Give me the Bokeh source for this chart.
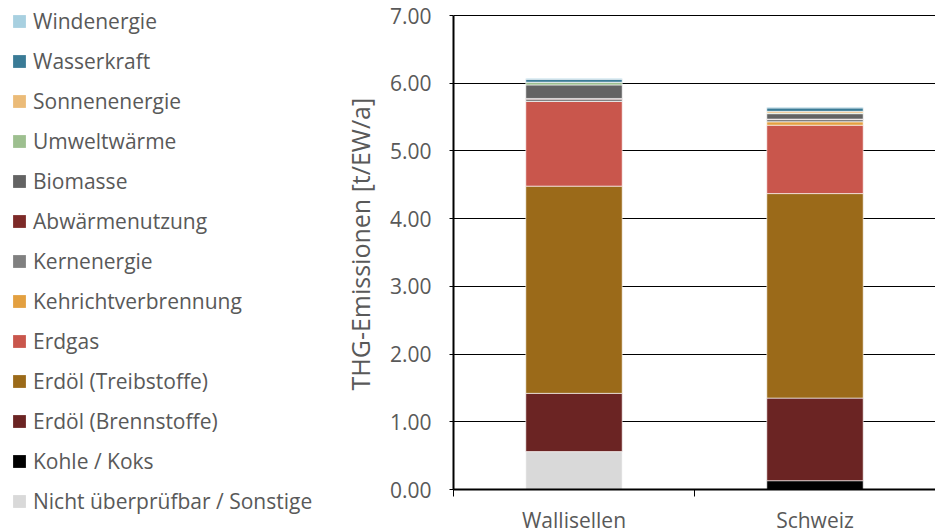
from bokeh.plotting import figure
from bokeh.models import ColumnDataSource, FixedTicker, Legend, LegendItem, PrintfTickFormatter, Title
from bokeh.layouts import row
from bokeh.embed import file_html
from bokeh.resources import INLINE

categories = ["Wallisellen", "Schweiz"]

series = [
    "Nicht überprüfbar / Sonstige",
    "Kohle / Koks",
    "Erdöl (Brennstoffe)",
    "Erdöl (Treibstoffe)",
    "Erdgas",
    "Kehrichtverbrennung",
    "Kernenergie",
    "Abwärmenutzung",
    "Biomasse",
    "Umweltwärme",
    "Sonnenenergie",
    "Wasserkraft",
    "Windenergie",
]

colors = [
    "#d9d9d9", "#000000", "#6b2423", "#9b6a19", "#c9564c", "#e3a040",
    "#808080", "#7d2a28", "#636363", "#9dbf8f", "#ebbb78", "#3a7b96", "#a8d0e0",
]

wallisellen = [0.56, 0.0, 0.86, 3.06, 1.25, 0.0, 0.035, 0.01, 0.20, 0.04, 0.0, 0.044, 0.015]
schweiz     = [0.0, 0.13, 1.22, 3.02, 1.01, 0.05, 0.035, 0.005, 0.08, 0.01, 0.025, 0.05, 0.015]

y_ticks = [0, 1, 2, 3, 4, 5, 6, 7]
y_max = 7
y_label = "THG-Emissionen [t/EW/a]"

FONT = "Open Sans"
GREY = "#595959"

# layout (pixels): frame from 5 to 489, value 7 drawn at 15
FRAME_TOP, Y7_PX, Y0_PX = 5, 15, 489
y_end = y_max * (Y0_PX - FRAME_TOP) / (Y0_PX - Y7_PX)

keys = [f"s{i}" for i in range(len(series))]
data = {"x": [i + 0.5 for i in range(len(categories))]}
for i, k in enumerate(keys):
    data[k] = [wallisellen[i], schweiz[i]]
src = ColumnDataSource(data)

p = figure(width=610, height=544, x_range=(0, len(categories)), y_range=(0, y_end),
           output_backend="svg", toolbar_location=None,
           min_border_left=128, min_border_right=0, min_border_top=FRAME_TOP,
           min_border_bottom=544 - Y0_PX)
p.outline_line_color = None
p.vbar_stack(keys, x="x", width=0.4, source=src, fill_color=colors,
             line_color="white", line_width=0.6)

p.xgrid.visible = False
p.ygrid.grid_line_color = "black"
p.ygrid.grid_line_width = 1
p.ygrid.ticker = FixedTicker(ticks=y_ticks)

xa = p.xaxis[0]
xa.ticker = FixedTicker(ticks=data["x"], minor_ticks=list(range(len(categories) + 1)))
xa.major_label_overrides = {x: c for x, c in zip(data["x"], categories)}
xa.major_tick_line_color = None
xa.major_tick_in = 0
xa.major_tick_out = 0
xa.minor_tick_in = 0
xa.minor_tick_out = 7
xa.minor_tick_line_color = "black"
xa.axis_line_color = "black"
xa.axis_line_width = 2
xa.major_label_text_font = FONT
xa.major_label_text_font_size = "21px"
xa.major_label_text_color = GREY
xa.major_label_standoff = 9

ya = p.yaxis[0]
ya.ticker = FixedTicker(ticks=y_ticks)
ya.bounds = (0, y_max)
ya.formatter = PrintfTickFormatter(format="%.2f")
ya.major_tick_in = 0
ya.major_tick_out = 4
ya.major_tick_line_color = "black"
ya.minor_tick_line_color = None
ya.axis_line_color = "black"
ya.axis_line_width = 2
ya.major_label_text_font = FONT
ya.major_label_text_font_size = "21px"
ya.major_label_text_color = GREY
ya.major_label_standoff = 18

ytitle = Title(text=y_label, align="left", offset=99, standoff=20,
               text_font=FONT, text_font_size="25px", text_font_style="normal",
               text_color=GREY)
p.add_layout(ytitle, "left")

lf = figure(width=325, height=582, x_range=(0, 1), y_range=(0, 1),
            output_backend="svg", toolbar_location=None,
            min_border_left=9, min_border_right=0, min_border_top=FRAME_TOP, min_border_bottom=0)
lf.axis.visible = False
lf.grid.visible = False
lf.outline_line_color = None

items = []
for name, c in zip(series, colors):
    r = lf.vbar(x=[10], top=[0], width=0.1, fill_color=c, line_color=None)
    items.append(LegendItem(label=name, renderers=[r]))
items = items[::-1]

legend = Legend(items=items, location="top_left", margin=2, padding=0,
                nrows=len(items), ncols=1,
                glyph_width=16, glyph_height=16, label_standoff=6,
                label_text_font=FONT, label_text_font_size="21px", label_text_color=GREY,
                label_height=24, spacing=12,
                border_line_color=None, background_fill_alpha=0)
lf.add_layout(legend)

layout = row(lf, p)
open("out.html", "w").write(file_html(layout, INLINE))
